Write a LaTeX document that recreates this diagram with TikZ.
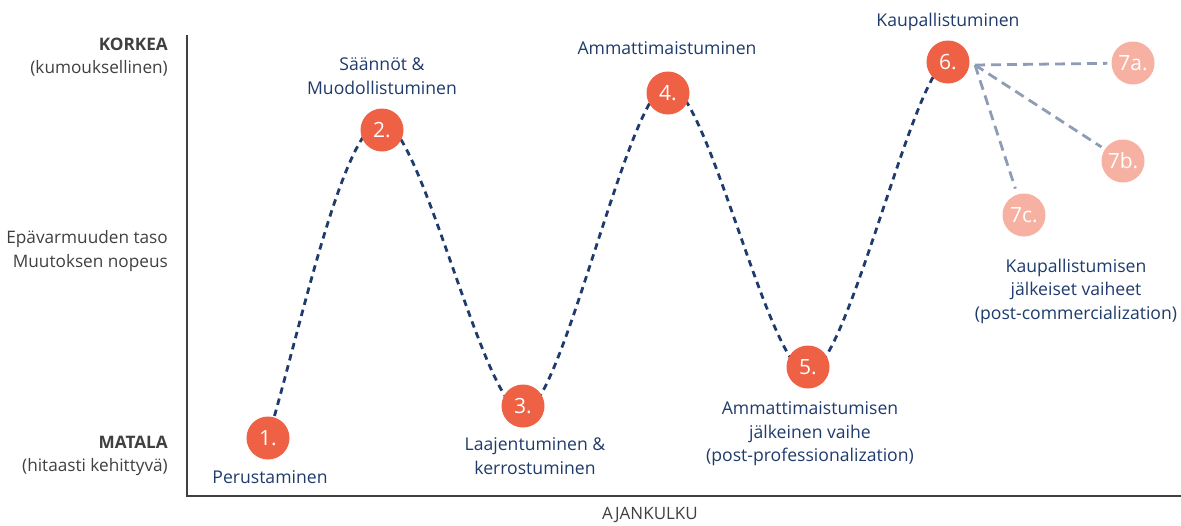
\documentclass[tikz,border=0pt]{standalone}
\usepackage{fontspec}
\setmainfont{Open Sans}
\definecolor{navy}{HTML}{1F3B6C}
\definecolor{axisgray}{HTML}{404040}
\definecolor{stageorange}{HTML}{EE6145}
\definecolor{stagepink}{HTML}{F6B1A2}
\definecolor{fangray}{HTML}{8E9CB6}
\begin{document}
\begin{tikzpicture}[x=1pt,y=-1pt,
  stage/.style={circle,fill=stageorange,minimum size=43pt,inner sep=0pt,text=white,font=\fontsize{21}{22}\selectfont},
  later/.style={circle,fill=stagepink,minimum size=43pt,inner sep=0pt,text=white,font=\fontsize{21}{22}\selectfont},
  lbl/.style={text=navy,align=center,font=\fontsize{17.6}{23.5}\selectfont,inner sep=0pt},
  side/.style={text=axisgray,align=right,font=\fontsize{17.2}{23.5}\selectfont,inner sep=0pt,anchor=east},
  wave/.style={navy,line width=2.8pt,dash pattern=on 6.5pt off 5pt},
  fan/.style={fangray,line width=2.8pt,dash pattern=on 10pt off 6pt}]
\useasboundingbox (0,0) rectangle (1181,525);
% axes
\coordinate (ytop) at (187,35);
\coordinate (origin) at (187,496);
\coordinate (xend) at (1181,496);
\draw[axisgray,line width=2.2pt] (ytop) -- (origin) -- (xend);
% wave
\coordinate (w1) at (268,438);
\coordinate (w2) at (382,122);
\coordinate (w3) at (523,412);
\coordinate (w4) at (668,85);
\coordinate (w5) at (808,373);
\coordinate (w6) at (948,62);
\draw[wave] (w1) .. controls (298,340) and (343,122) .. (w2)
  .. controls (421,122) and (484,412) .. (w3)
  .. controls (562,412) and (629,85) .. (w4)
  .. controls (707,85) and (769,373) .. (w5)
  .. controls (847,373) and (915,62) .. (w6);
% fan lines
\node[later] (s7a) at (1133,63) {7a.};
\node[later] (s7b) at (1123,161) {7b.};
\node[later] (s7c) at (1024,215) {7c.};
\coordinate (fan) at (975,65);
\draw[fan,shorten >=4pt] (fan) -- (s7a);
\draw[fan,shorten >=4pt] (fan) -- (s7b);
\draw[fan,shorten >=6pt] (fan) -- (s7c);
% stages
\node[stage] (s1) at (268,438) {1.};
\node[stage] (s2) at (382,130) {2.};
\node[stage] (s3) at (523,406) {3.};
\node[stage] (s4) at (668,93) {4.};
\node[stage] (s5) at (808,367) {5.};
\node[stage] (s6) at (948,62) {6.};
% stage labels
\node[lbl] (l1) at (270,477) {Perustaminen};
\node[lbl] (l2) at (382,76) {Säännöt \&\\Muodollistuminen};
\node[lbl] (l3) at (535,456) {Laajentuminen \&\\kerrostuminen};
\node[lbl] (l4) at (667,48) {Ammattimaistuminen};
\node[lbl] (l5) at (810,434) {Ammattimaistumisen\\jälkeinen vaihe\\(post-professionalization)};
\node[lbl] (l6) at (948,22) {Kaupallistuminen};
\node[lbl] (l7) at (1076,291) {Kaupallistumisen\\jälkeiset vaiheet\\(post-commercialization)};
% axis labels
\node[side] (high) at (168,57) {\textbf{KORKEA}\\(kumouksellinen)};
\node[side] (mid) at (168,251) {Epävarmuuden taso\\Muutoksen nopeus};
\node[side] (low) at (168,456) {\textbf{MATALA}\\(hitaasti kehittyvä)};
\node[text=axisgray,font=\fontsize{17}{20}\selectfont,inner sep=0pt] (time) at (650,515) {AJANKULKU};
\end{tikzpicture}
\end{document}
